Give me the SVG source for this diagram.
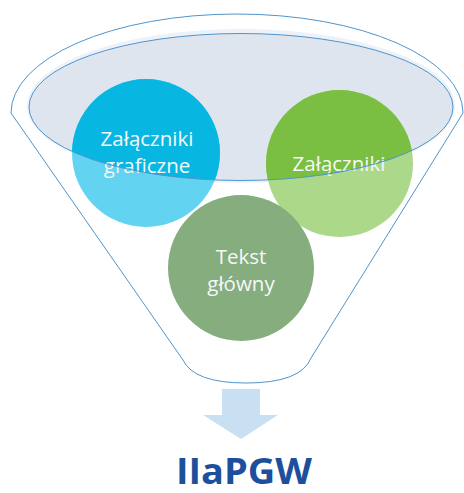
<svg xmlns="http://www.w3.org/2000/svg" width="464" height="493" viewBox="0 0 464 493">
<defs>
<style>
.rim{fill:none;stroke:#4f95cc;stroke-width:1}
.lbl{font-family:"Open Sans","Noto Sans",sans-serif;font-size:20.5px;fill:#f4f8fb;text-anchor:middle}
.title{font-family:"Open Sans","Noto Sans",sans-serif;font-size:35px;font-weight:bold;fill:#1c4f9c;text-anchor:middle}
</style>
<clipPath id="inEll"><ellipse cx="241" cy="107" rx="212" ry="73.5"/></clipPath>
</defs>
<rect width="464" height="493" fill="#ffffff"/>
<g id="funnel">
<path class="rim" d="M11,113 A226,99 0 0 1 463,113 L311,358 Q301,383 246,383 Q194,383 183,360 Z" style="fill:#ffffff"/>
<ellipse cx="241" cy="106" rx="214" ry="77" fill="#eef2f8"/>
<ellipse cx="241" cy="107" rx="212" ry="73.5" fill="#dfe5ef"/>
</g>
<g id="node-zalaczniki-graficzne">
<circle cx="146" cy="153" r="74" fill="#62d3f0"/>
<circle cx="146" cy="153" r="74" fill="#08b6e2" clip-path="url(#inEll)"/>
<text class="lbl" x="147" y="146">Załączniki</text>
<text class="lbl" x="147" y="173">graficzne</text>
</g>
<g id="node-zalaczniki">
<circle cx="339.5" cy="163.5" r="73.5" fill="#acd889"/>
<circle cx="339.5" cy="163.5" r="73.5" fill="#7abf41" clip-path="url(#inEll)"/>
<text class="lbl" x="339" y="171">Załączniki</text>
</g>
<g id="funnel-rim">
<ellipse class="rim" cx="241" cy="107" rx="212" ry="73.5"/>
</g>
<g id="node-tekst-glowny">
<circle cx="241" cy="268" r="73" fill="#86ad7d"/>
<text class="lbl" x="241" y="264">Tekst</text>
<text class="lbl" x="241" y="291">główny</text>
</g>
<g id="connectors">
<path d="M222,389 L260,389 L260,415 L278,415 L241,439 L203,415 L222,415 Z" fill="#c9e0f2"/>
</g>
<g id="node-iiapgw">
<text class="title" x="244" y="484" textLength="136" lengthAdjust="spacingAndGlyphs">IIaPGW</text>
</g>
</svg>
